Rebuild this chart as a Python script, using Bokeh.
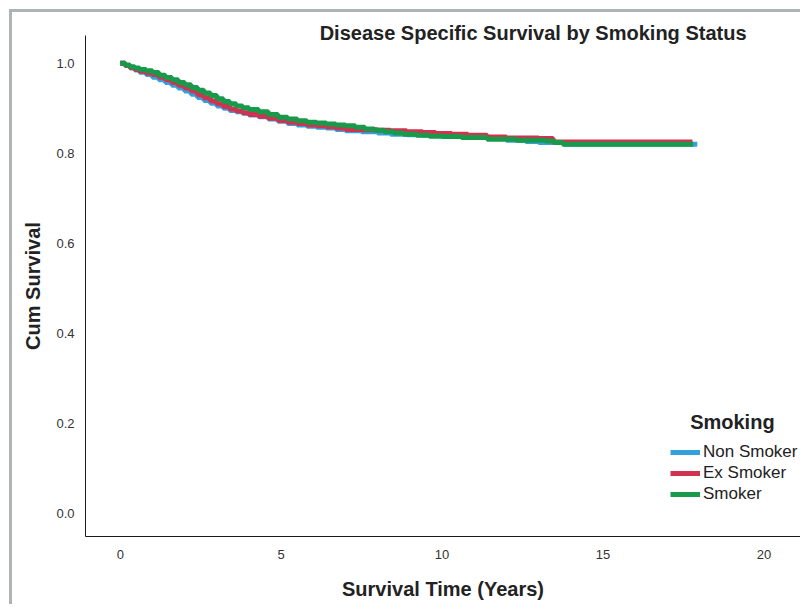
from bokeh.plotting import figure
from bokeh.models import Legend, LegendItem, Label, Range1d, FixedTicker, PrintfTickFormatter
from bokeh.embed import file_html
from bokeh.resources import INLINE

# ---- data ----
groups = ["Non Smoker", "Ex Smoker", "Smoker"]
colors = ["#34a0dc", "#cf3350", "#199a4b"]

non_time = [0, 0.15, 0.3, 0.45, 0.6, 0.8, 1.0, 1.2, 1.4, 1.6, 1.8, 2.0, 2.2, 2.4, 2.6, 2.8,
            3.0, 3.2, 3.4, 3.6, 3.8, 4.0, 4.3, 4.6, 4.9, 5.2, 5.5, 5.8, 6.1, 6.4, 6.7, 7.0,
            7.5, 8.0, 8.4, 8.9, 9.4, 9.8, 10.3, 10.8, 11.4, 12.0, 12.6, 13.0, 13.8, 17.93]
non_surv = [1.0, 0.995, 0.990, 0.985, 0.980, 0.975, 0.969, 0.963, 0.957, 0.951, 0.945, 0.938,
            0.931, 0.924, 0.917, 0.911, 0.905, 0.900, 0.895, 0.892, 0.889, 0.885, 0.881, 0.876,
            0.871, 0.866, 0.863, 0.860, 0.858, 0.856, 0.853, 0.850, 0.848, 0.845, 0.842, 0.841,
            0.840, 0.840, 0.838, 0.835, 0.833, 0.829, 0.826, 0.824, 0.8198, 0.8198]

ex_time = [0, 0.15, 0.3, 0.45, 0.6, 0.8, 1.0, 1.2, 1.4, 1.6, 1.8, 2.0, 2.2, 2.4, 2.6, 2.8,
           3.0, 3.2, 3.4, 3.6, 3.8, 4.0, 4.3, 4.6, 4.9, 5.2, 5.5, 5.8, 6.1, 6.4, 6.7, 7.0,
           7.5, 8.0, 8.4, 8.9, 9.4, 9.8, 10.3, 10.8, 11.4, 12.0, 13.0, 13.45, 17.78]
ex_surv = [1.0, 0.995, 0.990, 0.986, 0.982, 0.978, 0.975, 0.969, 0.963, 0.957, 0.951, 0.945,
           0.938, 0.930, 0.923, 0.916, 0.910, 0.904, 0.898, 0.894, 0.890, 0.886, 0.882, 0.878,
           0.873, 0.869, 0.866, 0.863, 0.861, 0.859, 0.856, 0.853, 0.852, 0.851, 0.850, 0.848,
           0.846, 0.844, 0.842, 0.840, 0.836, 0.834, 0.833, 0.825, 0.825]

smk_time = [0, 0.15, 0.3, 0.45, 0.6, 0.8, 1.0, 1.2, 1.4, 1.6, 1.8, 2.0, 2.2, 2.4, 2.6, 2.8,
            3.0, 3.2, 3.4, 3.6, 3.8, 4.0, 4.3, 4.6, 4.9, 5.2, 5.5, 5.8, 6.1, 6.4, 6.7, 7.0,
            7.3, 7.6, 7.9, 8.2, 8.5, 8.8, 9.2, 9.6, 10.0, 10.6, 11.4, 12.3, 13.2, 13.5, 13.75,
            17.8]
smk_surv = [1.0, 0.996, 0.992, 0.989, 0.986, 0.983, 0.979, 0.973, 0.968, 0.963, 0.957, 0.952,
            0.946, 0.940, 0.934, 0.928, 0.921, 0.915, 0.910, 0.905, 0.901, 0.897, 0.892, 0.886,
            0.880, 0.876, 0.872, 0.869, 0.867, 0.865, 0.863, 0.861, 0.858, 0.854, 0.851, 0.848,
            0.845, 0.842, 0.840, 0.838, 0.837, 0.835, 0.831, 0.829, 0.827, 0.824, 0.8198, 0.8198]

x_ticks = [0, 5, 10, 15, 20]
y_ticks = [0.0, 0.2, 0.4, 0.6, 0.8, 1.0]

FONT = "Liberation Sans"

p = figure(width=800, height=604, output_backend="svg", toolbar_location=None,
           x_range=Range1d(-1.081, 21.137), y_range=Range1d(-0.0506, 1.0614),
           min_border_left=85, min_border_right=0, min_border_top=35, min_border_bottom=68)
p.border_fill_color = None
p.background_fill_color = "white"
p.outline_line_color = None
p.xgrid.visible = False
p.ygrid.visible = False
p.styles = {"box-shadow": "inset 9px 9px 0 0 #ffffff, inset 12px 12px 0 0 #aeb3b7",
            "background-color": "white"}

renderers = []
for t, s, c in [(non_time, non_surv, colors[0]), (ex_time, ex_surv, colors[1]),
                (smk_time, smk_surv, colors[2])]:
    r = p.step(t, s, mode="after", line_width=5, line_color=c)
    renderers.append(r)

for ax in (p.xaxis[0], p.yaxis[0]):
    ax.axis_line_color = "#1a1a1a"
    ax.axis_line_width = 1
    ax.major_tick_line_color = None
    ax.minor_tick_line_color = None
    ax.major_tick_in = 0
    ax.major_tick_out = 0
    ax.minor_tick_in = 0
    ax.minor_tick_out = 0
    ax.major_label_text_font = FONT
    ax.major_label_text_font_size = "13px"
    ax.major_label_text_color = "#333333"
    ax.axis_label_text_font = FONT
    ax.axis_label_text_font_size = "20px"
    ax.axis_label_text_font_style = "bold"
    ax.axis_label_text_color = "#222222"

p.xaxis.ticker = FixedTicker(ticks=x_ticks)
p.yaxis.ticker = FixedTicker(ticks=y_ticks)
p.yaxis.formatter = PrintfTickFormatter(format="%.1f")
p.xaxis.axis_label = "Survival Time (Years)"
p.yaxis.axis_label = "Cum Survival"
p.xaxis.major_label_standoff = 13
p.yaxis.major_label_standoff = 11
p.xaxis.axis_label_standoff = 16
p.yaxis.axis_label_standoff = 9

p.title.text = "Disease Specific Survival by Smoking Status"
p.title.text_font = FONT
p.title.text_font_size = "20px"
p.title.text_font_style = "bold"
p.title.text_color = "#222222"
p.title.align = "right"
p.title.offset = 54
p.title.standoff = -16

legend_title = Label(x=19.02, y=0.2035, text="Smoking", text_font=FONT,
                     text_font_size="20px", text_font_style="bold", text_color="#222222",
                     text_align="center", text_baseline="middle")
p.add_layout(legend_title)

legend = Legend(items=[LegendItem(label=g, renderers=[r]) for g, r in zip(groups, renderers)],
                location=(585, 32), padding=0, margin=0, spacing=1,
                border_line_color=None, background_fill_alpha=0,
                glyph_width=30, glyph_height=20, label_height=20, label_standoff=3,
                label_text_font=FONT, label_text_font_size="17px", label_text_color="#222222")
p.add_layout(legend)

open("out.html", "w").write(file_html(p, INLINE))
